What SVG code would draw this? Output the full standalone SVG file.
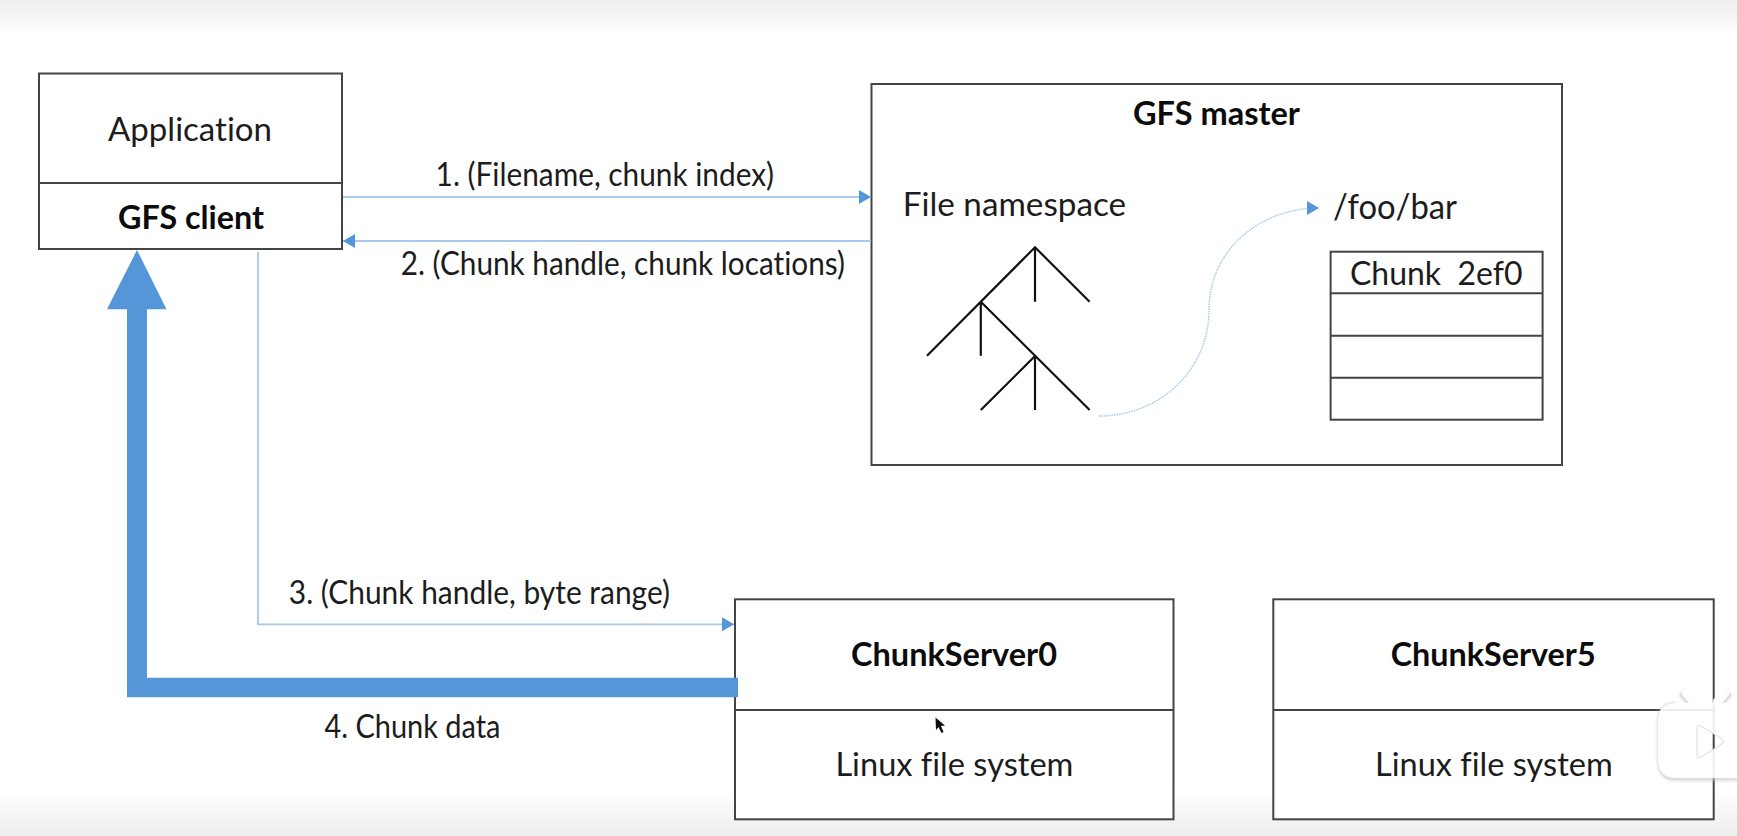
<svg xmlns="http://www.w3.org/2000/svg" width="1737" height="836" viewBox="0 0 1737 836">
<style>
text{font-family:Lato,"Liberation Sans",sans-serif;font-size:33px;fill:#1c1c1c;font-variant-ligatures:none}
.b{font-weight:700;fill:#0c0c0c}
.box{fill:#fff;stroke:#444;stroke-width:2}
.div{fill:none;stroke:#444;stroke-width:2}
.tree{fill:none;stroke:#111;stroke-width:2.2}
.thin{fill:none;stroke:#a9c8ea;stroke-width:1.8}
.dot{fill:none;stroke:#a9c8ea;stroke-width:1.5;stroke-dasharray:1.5 1}
</style>
<defs>
<linearGradient id="top" x1="0" y1="0" x2="0" y2="1"><stop offset="0" stop-color="#eeeeee"/><stop offset="1" stop-color="#ffffff"/></linearGradient>
<linearGradient id="bot" x1="0" y1="0" x2="0" y2="1"><stop offset="0" stop-color="#ffffff"/><stop offset="1" stop-color="#eeeeee"/></linearGradient>
<marker id="ah" markerUnits="userSpaceOnUse" markerWidth="12" markerHeight="14" refX="12" refY="7" orient="auto"><path d="M0 0L12 7L0 14Z" fill="#5596d8"/></marker>
<filter id="soft" x="-20%" y="-20%" width="140%" height="140%"><feGaussianBlur stdDeviation="1.5"/></filter>
<filter id="blur" x="-30%" y="-30%" width="160%" height="160%"><feGaussianBlur stdDeviation="0.7"/></filter>
</defs>
<rect width="1737" height="836" fill="#fff"/>
<rect width="1737" height="36" fill="url(#top)"/>
<rect y="790" width="1737" height="46" fill="url(#bot)"/>

<g id="application">
<rect class="box" x="39" y="73.5" width="303" height="175.5"/>
<line class="div" x1="39" y1="183" x2="342" y2="183"/>
<text x="108" y="140.7" textLength="164" lengthAdjust="spacingAndGlyphs">Application</text>
<text class="b" x="118" y="228.7" textLength="146" lengthAdjust="spacingAndGlyphs">GFS client</text>
</g>

<g id="master">
<rect class="box" x="871.5" y="84" width="690.5" height="381"/>
<text class="b" x="1133" y="125" textLength="167" lengthAdjust="spacingAndGlyphs">GFS master</text>
<text x="902.7" y="216" textLength="223.5" lengthAdjust="spacingAndGlyphs">File namespace</text>
<text x="1333" y="219" textLength="124" lengthAdjust="spacingAndGlyphs" style="font-size:34px">/foo/bar</text>
<g id="tree">
<path class="tree" d="M927 355.7L1035 247.3L1089.6 301.7M1035 247.3V301.7M980.8 301.7V355.7M980.8 301.7L1089.6 410M1035 356L980.8 410M1035 356V410"/>
</g>
<g id="chunk-table">
<rect class="box" x="1330.6" y="251.7" width="212" height="168"/>
<path class="div" d="M1330.6 293.3H1542.6M1330.6 335.7H1542.6M1330.6 377.7H1542.6"/>
<text x="1350" y="285" textLength="172.5" lengthAdjust="spacingAndGlyphs" xml:space="preserve">Chunk  2ef0</text>
</g>
</g>

<g id="chunkserver0">
<rect class="box" x="735" y="599.3" width="438.5" height="220"/>
<line class="div" x1="735" y1="710" x2="1173.5" y2="710"/>
<text class="b" x="851" y="666" textLength="206" lengthAdjust="spacingAndGlyphs">ChunkServer0</text>
<text x="835.4" y="776" textLength="238" lengthAdjust="spacingAndGlyphs">Linux file system</text>
</g>

<g id="chunkserver5">
<rect class="box" x="1273.3" y="599.3" width="440.4" height="220"/>
<line class="div" x1="1273.3" y1="710" x2="1713.7" y2="710"/>
<text class="b" x="1390.7" y="666" textLength="205" lengthAdjust="spacingAndGlyphs">ChunkServer5</text>
<text x="1375" y="776" textLength="237.7" lengthAdjust="spacingAndGlyphs">Linux file system</text>
</g>

<g id="connectors">
<path class="thin" marker-end="url(#ah)" d="M343 197H871"/>
<path class="thin" marker-end="url(#ah)" d="M871 241H343"/>
<path class="thin" marker-end="url(#ah)" d="M258 252V624.3H734"/>
<path class="dot" marker-end="url(#ah)" d="M1099 416C1160 416 1209 370 1209 310C1209 250 1260 208 1319 208"/>
<path fill="#5596d8" d="M738 677.7H147V309.3H166.5L137 250L107 309.3H127V697.3H738Z"/>
</g>

<g id="labels">
<text x="435.6" y="186" textLength="338.4" lengthAdjust="spacingAndGlyphs">1. (Filename, chunk index)</text>
<text x="400.7" y="275" textLength="444.3" lengthAdjust="spacingAndGlyphs">2. (Chunk handle, chunk locations)</text>
<text x="288.8" y="604" textLength="381.2" lengthAdjust="spacingAndGlyphs">3. (Chunk handle, byte range)</text>
<text x="324.5" y="738" textLength="176" lengthAdjust="spacingAndGlyphs">4. Chunk data</text>
</g>

<g id="cursor">
<path d="M935.5 717.5L936 730L938.5 727L941.5 733L943.5 732L941 726L945 725.5Z" fill="#111" filter="url(#blur)"/>
</g>

<g id="watermark">
<path fill="none" stroke="#c4c4c4" stroke-width="2.5" filter="url(#soft)" d="M1737 779H1676Q1659 779 1659 761V721Q1659 704 1676 704M1686 690L1681 695L1690 705M1725 690L1730 695L1721 705"/>
<path stroke="#fff" stroke-opacity="0.9" stroke-width="9" stroke-linecap="round" fill="none" d="M1686 693L1694 702M1725 693L1717 702"/>
<path fill="#fff" fill-opacity="0.9" fill-rule="evenodd" d="M1676 703H1737V778H1676Q1658 778 1658 760V721Q1658 703 1676 703ZM1697 728V755Q1697 759 1701 757L1722 744Q1725 741 1722 739L1701 726Q1697 724 1697 728Z"/>
<path fill="none" stroke="#dcdcdc" stroke-width="1" d="M1697 728V755Q1697 759 1701 757L1722 744Q1725 741 1722 739L1701 726Q1697 724 1697 728Z"/>
</g>
</svg>
